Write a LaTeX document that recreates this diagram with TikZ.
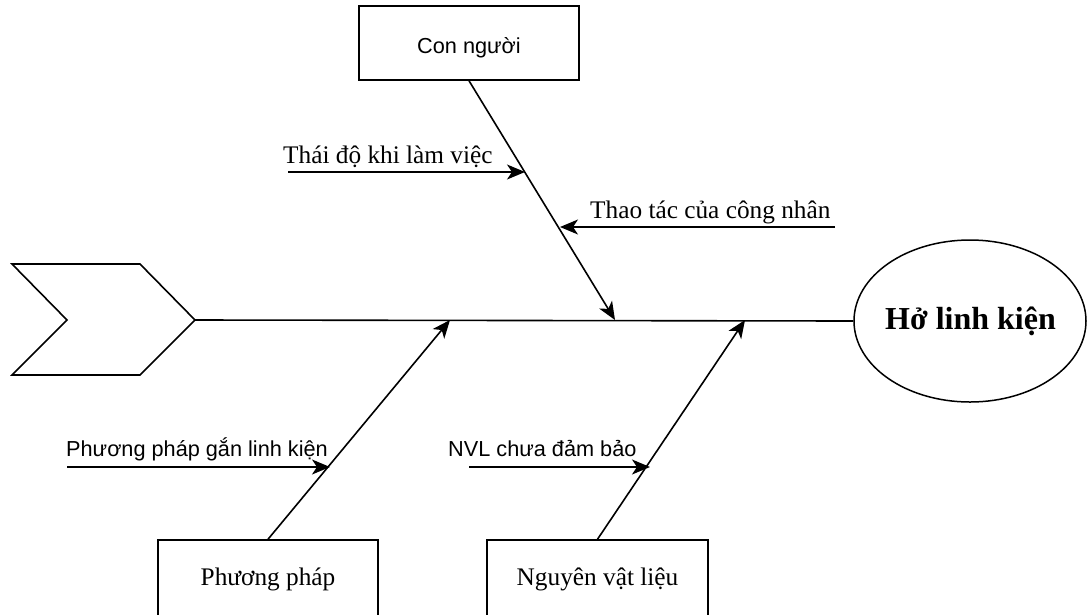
\documentclass[tikz,border=0pt]{standalone}
\usepackage{fontspec}
\setmainfont{Liberation Serif}
\newfontfamily\arialfont{Liberation Sans}
\usetikzlibrary{shapes.geometric,arrows.meta,calc}

\tikzset{
  line/.style={line width=1.6pt, black},
  arr/.style={line, -{Stealth[length=18pt,width=15pt,inset=5pt]}},
  catbox/.style={draw, line width=1.5pt, rectangle, minimum width=220pt, minimum height=74pt, inner sep=0pt},
  serif/.style={font=\fontsize{25.3}{30}\selectfont},
  sans/.style={font=\arialfont\fontsize{21.7}{26}\selectfont},
}

\begin{document}
\begin{tikzpicture}[x=1pt,y=-1pt]
\useasboundingbox (0,0) rectangle (1088,614);

% head of the fish: the effect
\node[draw, line width=1.5pt, ellipse, minimum width=232pt, minimum height=162pt, inner sep=0pt] (effect) at (970,321) {};
\node[anchor=base west, font=\bfseries\fontsize{32}{38}\selectfont, inner sep=0pt] (effecttxt) at (885,329) {Hở linh kiện};

% tail of the fish
\draw[line, line join=miter] (12,264) -- (140,264) -- (195,320) -- (140,375) -- (12,375) -- (67,320) -- cycle;
\coordinate (tail) at (195,320);

% spine
\draw[line] (tail) -- (effect.west);

% category boxes
\node[catbox] (con) at (469,43) {};
\node[anchor=base, sans, inner sep=0pt] at (469,53) {Con người};
\node[catbox, minimum height=76pt] (pp) at (268,578) {};
\node[anchor=base, serif, inner sep=0pt] at (268,585) {Phương pháp};
\node[catbox, minimum width=221pt, minimum height=76pt] (nvl) at (597.5,578) {};
\node[anchor=base, serif, inner sep=0pt] at (597.5,585) {Nguyên vật liệu};

% bones onto the spine
\coordinate (topend) at (615,320);
\coordinate (ppend) at (450,320);
\coordinate (nvlend) at (745,320);
\draw[arr] (con.south) -- (topend);
\draw[arr] (pp.north) -- (ppend);
\draw[arr] (nvl.north) -- (nvlend);

% causes pointing at the bones
\coordinate (c1s) at (288,172);
\coordinate (c1e) at (525,172);
\draw[arr] (c1s) -- (c1e);
\node[anchor=base west, serif, inner sep=0pt] at (283,163) {Thái độ khi làm việc};

\coordinate (c2s) at (835,227);
\coordinate (c2e) at (560,227);
\draw[arr] (c2s) -- (c2e);
\node[anchor=base west, serif, inner sep=0pt] at (590,218) {Thao tác của công nhân};

\coordinate (c3s) at (67,467);
\coordinate (c3e) at (330,467);
\draw[arr] (c3s) -- (c3e);
\node[anchor=base west, sans, inner sep=0pt] at (66,456) {Phương pháp gắn linh kiện};

\coordinate (c4s) at (469,467);
\coordinate (c4e) at (650,467);
\draw[arr] (c4s) -- (c4e);
\node[anchor=base west, sans, inner sep=0pt] at (448,456) {NVL chưa đảm bảo};
\end{tikzpicture}
\end{document}
